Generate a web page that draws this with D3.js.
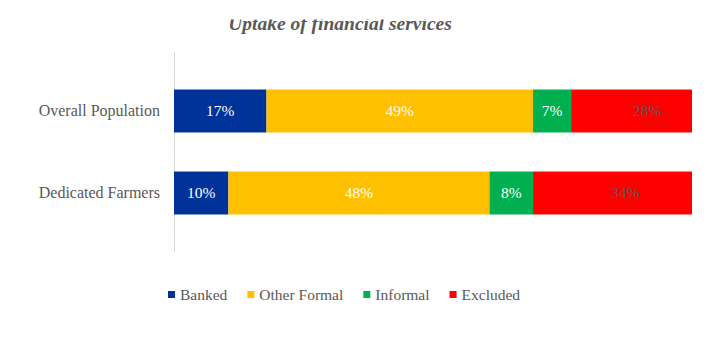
<!DOCTYPE html>
<html>
<head>
<meta charset="utf-8">
<script src="https://cdn.jsdelivr.net/npm/d3@7"></script>
<style>
  html, body { margin: 0; padding: 0; background: #fff; }
  svg { display: block; font-family: "Liberation Serif", "Times New Roman", serif; }
</style>
</head>
<body>
<svg id="chart" width="715" height="344"></svg>
<script>
const title = "Uptake of financial services";
const categories = ["Overall Population", "Dedicated Farmers"];
const seriesNames = ["Banked", "Other Formal", "Informal", "Excluded"];
const banked = [17, 10];
const otherFormal = [49, 48];
const informal = [7, 8];
const excluded = [28, 34];
const seriesColors = ["#003399", "#FFC000", "#00B050", "#FF0000"];
const labelColors = ["#ffffff", "#ffffff", "#ffffff", "#595959"];

const seriesValues = [banked, otherFormal, informal, excluded];
const rows = categories.map((c, i) => {
  const r = { category: c };
  seriesNames.forEach((s, j) => r[s] = seriesValues[j][i]);
  return r;
});
const stack = d3.stack().keys(seriesNames)(rows);

const svg = d3.select("#chart");
const defs = svg.append("defs");
defs.append("clipPath").attr("id", "plotClip")
  .append("rect").attr("x", 0).attr("y", 0).attr("width", 692).attr("height", 344);
defs.append("clipPath").attr("id", "titleClip")
  .append("rect").attr("x", 0).attr("y", 19.5).attr("width", 715).attr("height", 40);

const x = d3.scaleLinear().domain([0, 100]).range([174, 718]);
const y = d3.scaleBand().domain(categories).range([70, 234])
  .paddingInner(0.476).paddingOuter(0.238);

// title (cropped at the top like the reference)
svg.append("g").attr("clip-path", "url(#titleClip)")
  .append("text")
  .attr("x", 340).attr("y", 30)
  .attr("text-anchor", "middle")
  .attr("font-size", 19.5).attr("font-weight", "bold").attr("font-style", "italic")
  .attr("fill", "#595959")
  .text(title);

// category axis
const yAxis = d3.axisLeft(y).tickSize(0).tickPadding(14);
const gy = svg.append("g").attr("transform", "translate(174,0)").call(yAxis);
gy.select(".domain").remove();
gy.selectAll("text")
  .attr("font-family", "Liberation Serif, Times New Roman, serif")
  .attr("font-size", 16).attr("fill", "#595959");
svg.append("line")
  .attr("x1", 174.5).attr("x2", 174.5).attr("y1", 52).attr("y2", 252)
  .attr("stroke", "#D9D9D9").attr("stroke-width", 1);

// bars
const plot = svg.append("g").attr("clip-path", "url(#plotClip)");
stack.forEach((layer, j) => {
  const g = plot.append("g");
  g.selectAll("rect").data(layer).join("rect")
    .attr("x", d => x(d[0]))
    .attr("y", d => y(d.data.category))
    .attr("width", d => x(d[1]) - x(d[0]))
    .attr("height", y.bandwidth())
    .attr("fill", seriesColors[j]);
  g.selectAll("text").data(layer).join("text")
    .attr("x", d => (x(d[0]) + x(d[1])) / 2)
    .attr("y", d => y(d.data.category) + y.bandwidth() / 2)
    .attr("dy", "0.35em")
    .attr("text-anchor", "middle")
    .attr("font-size", 15.5)
    .attr("fill", labelColors[j])
    .text(d => (d[1] - d[0]) + "%");
});

// legend
const legend = svg.append("g");
let lx = 168;
seriesNames.forEach((s, j) => {
  legend.append("rect").attr("x", lx).attr("y", 291).attr("width", 7).attr("height", 7)
    .attr("fill", seriesColors[j]);
  const t = legend.append("text").attr("x", lx + 12).attr("y", 295).attr("dy", "0.35em")
    .attr("font-size", 15.5).attr("fill", "#595959").text(s);
  lx += 12 + t.node().getComputedTextLength() + 20;
});
</script>
</body>
</html>
